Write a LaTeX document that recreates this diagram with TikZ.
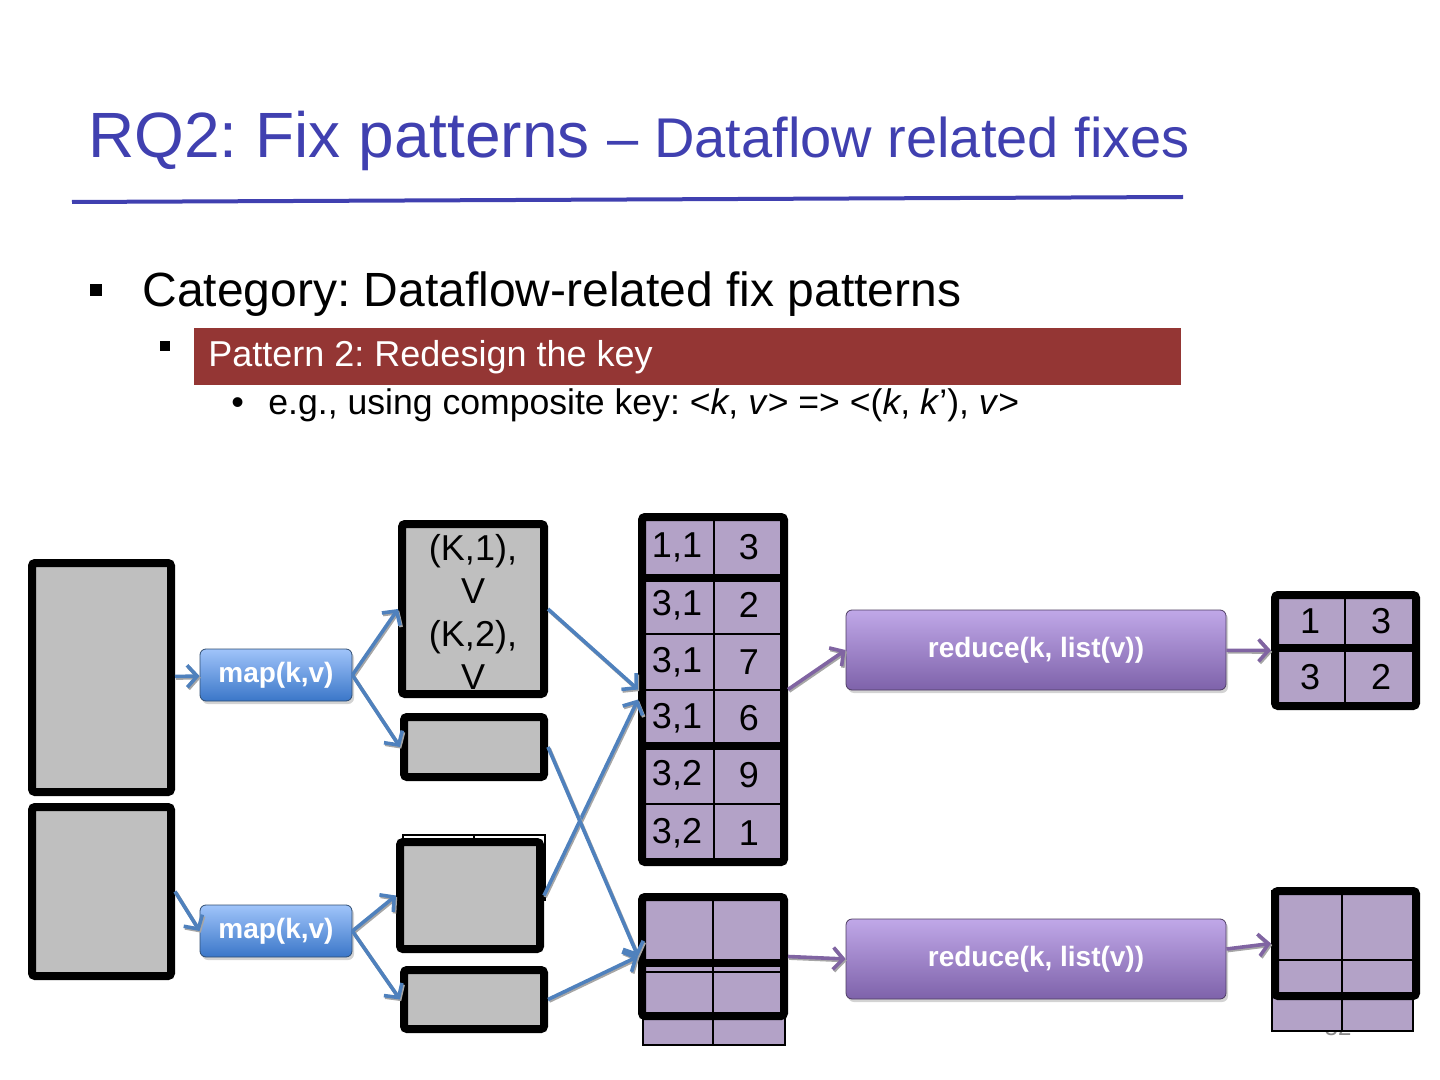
\documentclass[tikz,border=0pt]{standalone}
\usepackage{fontspec}
\setmainfont{Liberation Sans}
\usetikzlibrary{arrows.meta,fit,shadows}
\frenchspacing

\definecolor{titleblue}{RGB}{64,64,176}
\definecolor{banner}{RGB}{148,54,52}
\definecolor{cellpurple}{RGB}{179,162,199}
\definecolor{boxgray}{RGB}{191,191,191}
\definecolor{flowblue}{RGB}{79,129,189}
\definecolor{flowpurple}{RGB}{128,100,162}
\definecolor{pagegray}{RGB}{137,137,137}

\tikzset{
  graybox/.style={draw, fill=boxgray, line width=4pt, rounded corners=1.5pt, inner sep=0pt},
  thickframe/.style={draw, line width=4pt, rounded corners=1.5pt, inner sep=0pt},
  thingrid/.style={line width=1pt},
  cell/.style={font=\fontsize{18}{21.6}\selectfont},
  stepbox/.style={rounded corners=3pt, draw=#1!60!black, line width=.4pt, text=white,
    font=\bfseries\fontsize{14}{16}\selectfont,
    drop shadow={opacity=.35, shadow xshift=1pt, shadow yshift=-1.5pt}},
  mapbox/.style={stepbox=flowblue, top color={rgb,255:red,160;green,196;blue,250},
    bottom color={rgb,255:red,58;green,118;blue,200}, minimum width=76pt, minimum height=26pt},
  reducebox/.style={stepbox=flowpurple, top color={rgb,255:red,192;green,168;blue,232},
    bottom color={rgb,255:red,126;green,98;blue,170}, minimum width=190pt, minimum height=40pt},
  flow/.style={draw=#1, line width=1.8pt,
    preaction={draw=black!35, line width=1.8pt, transform canvas={shift={(.6pt,-.8pt)}}},
    -{Straight Barb[length=5pt,width=11pt,line width=1.8pt]}},
  flow/.default=flowblue
}

\begin{document}
\begin{tikzpicture}[x=0.5pt, y=-0.5pt]
  \useasboundingbox (0,0) rectangle (1440,1080);

  % title and bullets
  \node[anchor=base west, inner sep=0pt, text=titleblue] (title) at (88,158)
    {\fontsize{32}{36}\selectfont RQ2: Fix patterns \fontsize{28}{32}\selectfont – Dataflow related fixes};
  \draw[titleblue, line width=2pt] (72,202) -- (1183,197);

  \fill (90,284) rectangle (102,296);
  \node[anchor=base west, inner sep=0pt, font=\fontsize{24}{28}\selectfont] (cat) at (142,307)
    {Category: Dataflow-related fix patterns};
  \fill (160,341) rectangle (170,351);
  \node[anchor=north west, fill=banner, minimum width=493.5pt, minimum height=28.5pt,
    inner sep=0pt] (pat) at (194,328) {};
  \node[anchor=base west, inner sep=0pt, text=white, font=\fontsize{18}{22}\selectfont] (pattext)
    at (208,367) {Pattern 2: Redesign the key};
  \node[anchor=base west, inner sep=0pt, font=\fontsize{18}{22}\selectfont] (dot) at (231,415) {•};
  \node[anchor=base west, inner sep=0pt, font=\fontsize{17.8}{22}\selectfont] (eg) at (268,415)
    {e.g., using composite key: <\textit{k}, \textit{v}> => <(\textit{k}, \textit{k}’), \textit{v}>};

  % input splits
  \node[graybox, fit={(32,563) (171,792)}] (in1) {};
  \node[graybox, fit={(32,807) (171,976)}] (in2) {};

  % map tasks
  \node[mapbox] (map1) at (276,675) {map(k,v)};
  \node[mapbox] (map2) at (276,931) {map(k,v)};

  % map outputs
  \draw[thingrid] (403,835) rectangle (545,900) (474,835) -- (474,900);
  \node[graybox, fit={(402,524) (544,694)}] (out1) {};
  \node[align=center, cell, inner sep=0pt] (out1text) at (473,612) {(K,1),\\V\\(K,2),\\V};
  \node[graybox, fit={(404,717) (544,777)}] (out2) {};
  \node[graybox, fit={(400,842) (540,949)}] (out3) {};
  \node[graybox, fit={(404,970) (544,1029)}] (out4) {};

  % partition 1
  \fill[cellpurple] (642,517) rectangle (784,862);
  \draw[thingrid] (714,517) -- (714,862) (642,634) -- (784,634) (642,690) -- (784,690)
    (642,804) -- (784,804);
  \foreach \y/\k/\v [count=\i] in {547/{1,1}/3, 605/{3,1}/2, 662/{3,1}/7, 718/{3,1}/6,
      775/{3,2}/9, 833/{3,2}/1} {
    \node[cell] (pk\i) at (677,\y) {\k};
    \node[cell] (pv\i) at (749,\y) {\v};
  }
  \draw[line width=4pt] (642,578) -- (784,578) (642,746) -- (784,746);
  \node[thickframe, fit={(642,517) (784,862)}] (part1) {};

  % partition 2
  \fill[cellpurple] (643,897) rectangle (785,1045);
  \draw[thingrid] (643,897) rectangle (785,1045) (713,897) -- (713,1045) (643,972) -- (785,972);
  \draw[line width=4pt] (642,963) -- (784,963);
  \node[thickframe, fit={(642,897) (784,1016)}] (part2) {};

  % reduce tasks
  \node[reducebox] (red1) at (1036,650) {reduce(k, list(v))};
  \node[reducebox] (red2) at (1036,959) {reduce(k, list(v))};

  % results
  \fill[cellpurple] (1275,595) rectangle (1416,706);
  \draw[thingrid] (1345,595) -- (1345,706);
  \node[cell] (r1a) at (1310,621) {1};
  \node[cell] (r1b) at (1381,621) {3};
  \node[cell] (r2a) at (1310,677) {3};
  \node[cell] (r2b) at (1381,677) {2};
  \draw[line width=4pt] (1275,648) -- (1416,648);
  \node[thickframe, fit={(1275,595) (1416,706)}] (res1) {};

  \node[text=pagegray, font=\fontsize{12}{14}\selectfont] (page) at (1338,1027) {32};
  \fill[cellpurple] (1272,891) rectangle (1413,1031);
  \draw[thingrid] (1272,891) rectangle (1413,1031) (1342,891) -- (1342,1031)
    (1272,960) -- (1413,960);
  \node[thickframe, fit={(1275,891) (1416,996)}] (res2) {};

  % connectors
  \draw[flow] (in1) -- (map1);
  \draw[flow] (in2.east) -- (map2.west);
  \draw[flow] (map1.east) -- (out1.west);
  \draw[flow] (map1.east) -- (out2.west);
  \draw[flow] (map2.east) -- (out3.west);
  \draw[flow] (map2.east) -- (out4.west);
  \draw[flow] (out1.east) -- (part1.west);
  \draw[flow] (out3.east) -- ([yshift=-5pt]part1.west);
  \draw[flow] (out2.east) -- (part2.west);
  \draw[flow] (out4.east) -- (part2.west);
  \draw[flow=flowpurple] (part1.east) -- (red1.west);
  \draw[flow=flowpurple] (part2.east) -- (red2.west);
  \draw[flow=flowpurple] (red1) -- (res1);
  \draw[flow=flowpurple] ([yshift=5pt]red2.east) -- (res2.west);
\end{tikzpicture}
\end{document}
